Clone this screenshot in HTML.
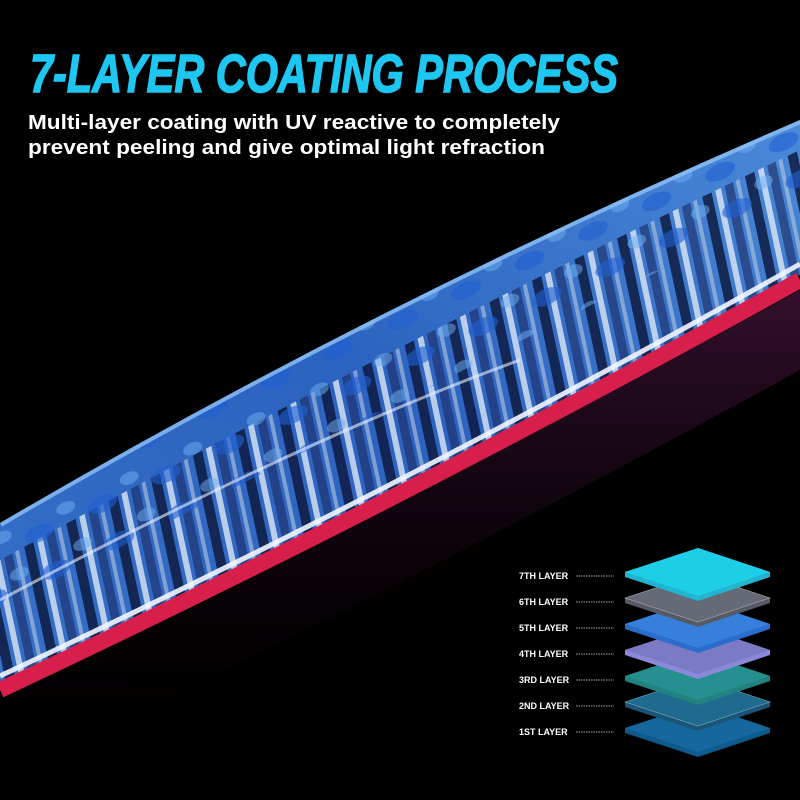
<!DOCTYPE html>
<html><head><meta charset="utf-8"><style>
html,body{margin:0;padding:0;background:#000;}
svg{display:block}
</style></head><body>
<svg width="800" height="800" viewBox="0 0 800 800" xmlns="http://www.w3.org/2000/svg">
<defs>
<linearGradient id="body" x1="0" y1="1" x2="1" y2="0">
<stop offset="0" stop-color="#3570c8"/>
<stop offset="0.5" stop-color="#2c62c0"/>
<stop offset="1" stop-color="#4a8ad8"/>
</linearGradient>
<linearGradient id="refl" x1="0" y1="0" x2="0" y2="1">
<stop offset="0" stop-color="#4a1540" stop-opacity="0.7"/>
<stop offset="1" stop-color="#000" stop-opacity="0"/>
</linearGradient>
<pattern id="drip" width="46" height="90" patternUnits="userSpaceOnUse" patternTransform="rotate(-12)">
<rect x="2" y="0" width="10" height="90" fill="#0b1538" opacity="0.8"/>
<rect x="16" y="0" width="6" height="90" fill="#e8eef8" opacity="0.75"/>
<rect x="26" y="0" width="9" height="90" fill="#1a2a60" opacity="0.6"/>
<rect x="38" y="0" width="4" height="90" fill="#b8c6dc" opacity="0.6"/>
</pattern>
<pattern id="drip2" width="70" height="40" patternUnits="userSpaceOnUse" patternTransform="rotate(-25)">
<ellipse cx="20" cy="20" rx="16" ry="8" fill="#1f5fd0" opacity="0.6"/>
<ellipse cx="55" cy="8" rx="10" ry="6" fill="#6fb0f0" opacity="0.5"/>
</pattern>
<clipPath id="lc"><path d="M0,523 Q380,300 800,120 L800,275 Q400,500 0,690 Z"/></clipPath>
</defs>
<rect width="800" height="800" fill="#000"/>
<path d="M0,700 Q400,510 800,290 L800,370 Q400,590 0,780 Z" fill="url(#refl)"/>
<path d="M0,523 Q380,300 800,120 L800,275 Q400,500 0,690 Z" fill="url(#body)"/>
<g clip-path="url(#lc)">
<path d="M0,560 Q400,340 800,150 L800,275 Q400,500 0,690 Z" fill="url(#drip)"/>
<path d="M0,523 Q380,300 800,120 L800,200 Q400,400 0,610 Z" fill="url(#drip2)"/>
<path d="M0,523 Q380,300 800,120" fill="none" stroke="#8fc0f5" stroke-width="8" opacity="0.8"/>
<path d="M0,600 Q300,440 520,360" fill="none" stroke="#e8f2ff" stroke-width="3" opacity="0.6"/>
</g>
<path d="M0,676 Q400,489 800,264" fill="none" stroke="#f2f6ff" stroke-width="5" opacity="0.9"/>
<path d="M0,690 Q400,502 800,280" fill="none" stroke="#d81e4a" stroke-width="16"/>
<text x="30" y="92" font-family="Liberation Sans, sans-serif" font-weight="bold" font-style="italic" font-size="54" fill="#1ec6f2" stroke="#1ec6f2" stroke-width="1.5" textLength="588" lengthAdjust="spacingAndGlyphs">7-LAYER COATING PROCESS</text>
<text x="28" y="129" font-family="Liberation Sans, sans-serif" font-weight="bold" font-size="20" fill="#fff" textLength="532" lengthAdjust="spacingAndGlyphs">Multi-layer coating with UV reactive to completely</text>
<text x="28" y="154" font-family="Liberation Sans, sans-serif" font-weight="bold" font-size="20" fill="#fff" textLength="517" lengthAdjust="spacingAndGlyphs">prevent peeling and give optimal light refraction</text>
<g>
<path d="M625,728 L698,704 L770,728 L770,733 L698,757 L625,733 Z" fill="#0f5a8c"/><path d="M625,728 L698,704 L770,728 L698,752 Z" fill="#15679e"/>
<path d="M625,702 L698,678 L770,702 L770,707 L698,731 L625,707 Z" fill="#1a5577"/><path d="M625,702 L698,678 L770,702 L698,726 Z" fill="#1f6a8f" stroke="#7ab" stroke-width="0.6"/>
<path d="M625,676 L698,652 L770,676 L770,681 L698,705 L625,681 Z" fill="#21827f"/><path d="M625,676 L698,652 L770,676 L698,700 Z" fill="#268f8f"/>
<path d="M625,650 L698,626 L770,650 L770,655 L698,679 L625,655 Z" fill="#8a88d8"/><path d="M625,650 L698,626 L770,650 L698,674 Z" fill="#7c7ac4"/>
<path d="M625,624 L698,600 L770,624 L770,629 L698,653 L625,629 Z" fill="#2a6ccc"/><path d="M625,624 L698,600 L770,624 L698,648 Z" fill="#3680dc"/>
<path d="M625,598 L698,574 L770,598 L770,603 L698,627 L625,603 Z" fill="#555a66"/><path d="M625,598 L698,574 L770,598 L698,622 Z" fill="#656a76" stroke="#aaa" stroke-width="0.6"/>
<path d="M625,572 L698,548 L770,572 L770,577 L698,601 L625,577 Z" fill="#22b3cf"/><path d="M625,572 L698,548 L770,572 L698,596 Z" fill="#1ecde6"/>
</g>
<g font-family="Liberation Sans, sans-serif" font-weight="bold" font-size="9" fill="#fff">
<text x="519" y="579">7TH LAYER</text>
<text x="519" y="605">6TH LAYER</text>
<text x="519" y="631">5TH LAYER</text>
<text x="519" y="657">4TH LAYER</text>
<text x="519" y="683">3RD LAYER</text>
<text x="519" y="709">2ND LAYER</text>
<text x="519" y="735">1ST LAYER</text>
</g>
<g stroke="#aaa" stroke-width="1" stroke-dasharray="1.5,1">
<line x1="576" y1="576" x2="614" y2="576"/>
<line x1="576" y1="602" x2="614" y2="602"/>
<line x1="576" y1="628" x2="614" y2="628"/>
<line x1="576" y1="654" x2="614" y2="654"/>
<line x1="576" y1="680" x2="614" y2="680"/>
<line x1="576" y1="706" x2="614" y2="706"/>
<line x1="576" y1="732" x2="614" y2="732"/>
</g>
</svg>
</body></html>
